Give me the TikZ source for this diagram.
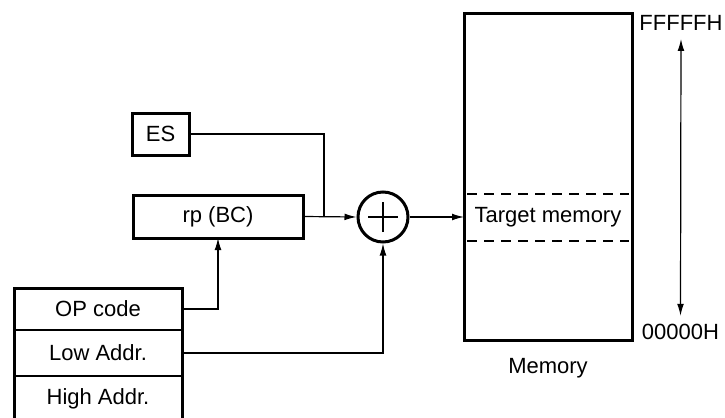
\documentclass[tikz,border=0pt]{standalone}
\usepackage{fontspec}
\setsansfont{Liberation Sans}
\usetikzlibrary{arrows.meta, positioning}

\begin{document}
\begin{tikzpicture}[x=0.5pt, y=-0.5pt,
        font=\sffamily\fontsize{11}{13}\selectfont,
        box/.style={draw, line width=1.5pt, inner sep=0pt, outer sep=0pt},
        cell/.style={draw, line width=0.6pt, inner sep=0pt, outer sep=0pt,
                     minimum width=84pt},
        wire/.style={line width=0.6pt},
        tip/.style={-{Latex[length=6pt, width=3.4pt]}},
        sepline/.style={line width=0.6pt, dash pattern=on 5pt off 3.5pt}]
        \useasboundingbox (0,0) rectangle (725,418);
        % registers
        \node[box,
              minimum width=28.5pt,
              minimum height=21pt] (es) at (160.5,134) {ES};
        \node[box,
              minimum width=85pt,
              minimum height=21.5pt] (rp) at (218,216.5) {rp (BC)};
        % instruction bytes
        \node[cell,
              minimum height=21pt] (op) at (98,309) {OP code};
        \node[cell,
              below=0pt of op,
              minimum height=23pt] (low) {Low Addr.};
        \node[cell,
              below=0pt of low,
              minimum height=23pt] (high) {High Addr.};
        \draw[line width=1.5pt] (op.north west) rectangle (high.south east);
        % adder
        \node[circle,
              draw,
              line width=1.5pt,
              minimum size=25pt,
              inner sep=0pt] (add) at (383,217) {};
        \draw[wire] ([xshift=-7.5pt]add.center) -- ([xshift=7.5pt]add.center);
        \draw[wire] ([yshift=-7.5pt]add.center) -- ([yshift=7.5pt]add.center);
        % memory
        \node[box,
              minimum width=84pt,
              minimum height=163.5pt] (mem) at (548,176.5) {};
        \draw[sepline] ([xshift=1.5pt]mem.west |- 0,194) -- ([xshift=-1.5pt]mem.east |- 0,194);
        \draw[sepline] ([xshift=1.5pt]mem.west |- 0,241) -- ([xshift=-1.5pt]mem.east |- 0,241);
        \node (target) at (548,217) {Target memory};
        \node (memlabel) at (548,368) {Memory};
        \node[inner sep=4pt] (top) at (681,23) {FFFFFH};
        \node[inner sep=4pt] (bottom) at (680.5,332) {00000H};
        \coordinate (join) at (324,217);
        % connectors
        \draw[wire] (es.east) -| (join);
        \draw[wire, tip] (rp.east) -- (add.west);
        \draw[wire, tip] (op.east) -| (rp.south);
        \draw[wire, tip] (low.east) -| (add.south);
        \draw[wire, tip] (add.east) -- (add.east -| mem.west);
        \draw[wire, {Latex[length=6pt, width=3.4pt]}-{Latex[length=6pt, width=3.4pt]}]
            (top.south) -- (bottom.north);
\end{tikzpicture}
\end{document}
